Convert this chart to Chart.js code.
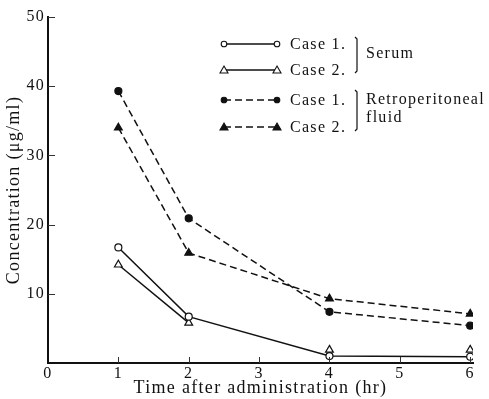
<!DOCTYPE html>
<html>
<head>
<meta charset="utf-8">
<script src="https://cdn.jsdelivr.net/npm/chart.js@4"></script>
<style>
  html, body { margin: 0; padding: 0; background: #fff; }
  #wrap { width: 489px; height: 399px; }
</style>
</head>
<body>
<div id="wrap"><canvas id="chart" width="489" height="399"></canvas></div>
<script>
// values
const times = [1, 2, 4, 6];
const serumCase1 = [16.7, 6.7, 1.0, 0.9];
const serumCase2 = [14.2, 5.8, 1.9, 1.9];
const fluidCase1 = [39.3, 20.9, 7.4, 5.4];
const fluidCase2 = [34.0, 15.9, 9.3, 7.1];
const xTicks = [0, 1, 2, 3, 4, 5, 6];
const yTicks = [10, 20, 30, 40, 50];

const FONT = '"Liberation Serif", "DejaVu Serif", serif';

const toPoints = (vals) => vals.map((v, i) => ({ x: times[i], y: v }));

const makeSet = (label, vals, style, fill, dashed) => ({
    label: label,
    data: toPoints(vals),
    borderColor: '#111',
    borderWidth: 1.5,
    borderDash: dashed ? [7, 4] : [],
    pointStyle: style,
    pointRadius: style === 'triangle' ? 4.5 : 3.5,
    pointBorderWidth: 1.2,
    pointBorderColor: '#111',
    pointBackgroundColor: fill ? '#111' : '#fff',
    tension: 0,
    fill: false
});

const serum2 = makeSet('Serum|Case 2.', serumCase2, 'triangle', false, false);
// in the figure the second serum curve is only drawn between 1 h and 2 h
serum2.segment = { borderColor: (c) => c.p0DataIndex === 0 ? '#111' : 'rgba(0,0,0,0)' };

// wider letter spacing, like the typeset original
const spacing = {
    id: 'spacing',
    beforeDraw(chart) { chart.ctx.letterSpacing = '1.3px'; }
};

// small ticks pointing into the plot, plus the bracketed legend
const decorations = {
    id: 'decorations',
    afterDatasetsDraw(chart) {
        const ctx = chart.ctx;
        const xs = chart.scales.x, ys = chart.scales.y;
        ctx.save();
        ctx.strokeStyle = '#333';
        ctx.lineWidth = 1;
        yTicks.forEach(v => {
            const py = Math.round(ys.getPixelForValue(v)) + 0.5;
            ctx.beginPath();
            ctx.moveTo(xs.left, py);
            ctx.lineTo(xs.left + 7, py);
            ctx.stroke();
        });
        xTicks.slice(1).forEach(v => {
            const px = Math.round(xs.getPixelForValue(v)) + 0.5;
            ctx.beginPath();
            ctx.moveTo(px, ys.bottom);
            ctx.lineTo(px, ys.bottom - 6);
            ctx.stroke();
        });

        // legend
        const rows = [
            { y: 44, ds: 0 },
            { y: 70, ds: 1 },
            { y: 100, ds: 2 },
            { y: 127, ds: 3 }
        ];
        const x0 = 224, x1 = 277;
        ctx.font = '16px ' + FONT;
        ctx.letterSpacing = '1.3px';
        ctx.textBaseline = 'middle';
        ctx.fillStyle = '#111';
        rows.forEach(r => {
            const d = chart.data.datasets[r.ds];
            ctx.strokeStyle = '#111';
            ctx.lineWidth = 1.3;
            ctx.setLineDash(d.borderDash);
            ctx.beginPath();
            ctx.moveTo(x0, r.y);
            ctx.lineTo(x1, r.y);
            ctx.stroke();
            ctx.setLineDash([]);
            [x0, x1].forEach(px => {
                ctx.beginPath();
                if (d.pointStyle === 'circle') {
                    ctx.arc(px, r.y, 2.8, 0, Math.PI * 2);
                } else {
                    ctx.moveTo(px, r.y - 4);
                    ctx.lineTo(px + 4, r.y + 3);
                    ctx.lineTo(px - 4, r.y + 3);
                    ctx.closePath();
                }
                ctx.fillStyle = d.pointBackgroundColor;
                ctx.fill();
                ctx.lineWidth = 1.1;
                ctx.stroke();
            });
            ctx.fillStyle = '#111';
            ctx.fillText(d.label.split('|')[1], 290, r.y + 1);
        });
        ctx.lineWidth = 1.2;
        ctx.beginPath();
        ctx.moveTo(355, 37); ctx.lineTo(357, 39); ctx.lineTo(357, 71); ctx.lineTo(355, 73);
        ctx.moveTo(355, 90); ctx.lineTo(357, 92); ctx.lineTo(357, 129); ctx.lineTo(355, 131);
        ctx.stroke();
        ctx.fillText('Serum', 366, 54);
        ctx.fillText('Retroperitoneal', 366, 100);
        ctx.fillText('fluid', 366, 118);
        ctx.restore();
    }
};

new Chart(document.getElementById('chart').getContext('2d'), {
    type: 'line',
    data: {
        datasets: [
            makeSet('Serum|Case 1.', serumCase1, 'circle', false, false),
            serum2,
            makeSet('Fluid|Case 1.', fluidCase1, 'circle', true, true),
            makeSet('Fluid|Case 2.', fluidCase2, 'triangle', true, true)
        ]
    },
    options: {
        responsive: false,
        animation: false,
        layout: { padding: { top: 17, right: 16, left: 0, bottom: 0 } },
        plugins: { legend: { display: false }, tooltip: { enabled: false } },
        scales: {
            x: {
                type: 'linear',
                min: 0,
                max: 6.04,
                afterBuildTicks: (s) => { s.ticks = xTicks.map(v => ({ value: v })); },
                afterFit: (s) => { s.height = 36; },
                grid: { display: false, drawTicks: false },
                border: { color: '#111', width: 2 },
                ticks: { color: '#111', font: { family: FONT, size: 16 }, padding: 1, maxRotation: 0 },
                title: {
                    display: true,
                    text: 'Time after administration (hr)',
                    color: '#111',
                    font: { family: FONT, size: 18 },
                    padding: { top: 0, bottom: 0 }
                }
            },
            y: {
                min: 0,
                max: 50,
                afterBuildTicks: (s) => { s.ticks = yTicks.map(v => ({ value: v })); },
                afterFit: (s) => { s.width = 48; },
                grid: { display: false, drawTicks: false },
                border: { color: '#111', width: 2 },
                ticks: { color: '#111', font: { family: FONT, size: 16 }, padding: 3 },
                title: {
                    display: true,
                    text: 'Concentration (\u03bcg/ml)',
                    color: '#111',
                    font: { family: FONT, size: 18 },
                    padding: { top: 3, bottom: 2 }
                }
            }
        }
    },
    plugins: [spacing, decorations]
});
</script>
</body>
</html>
